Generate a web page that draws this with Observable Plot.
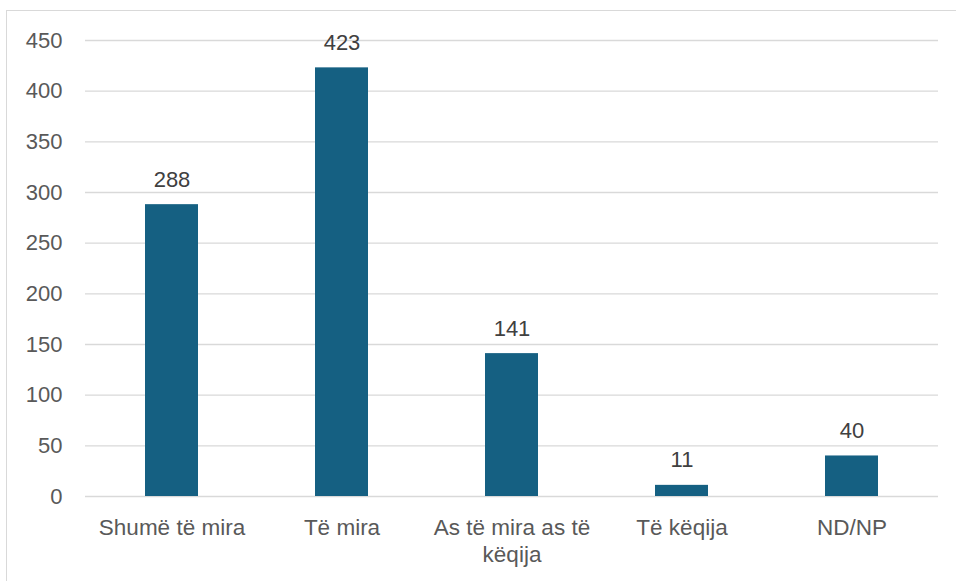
<!DOCTYPE html>
<html>
<head>
<meta charset="utf-8">
<script src="https://cdn.jsdelivr.net/npm/d3@7"></script>
<script src="https://cdn.jsdelivr.net/npm/@observablehq/plot@0.6"></script>
<style>
  html, body { margin: 0; padding: 0; background: #fff; overflow: hidden; }
  #frame { position: absolute; left: 6px; top: 10px; width: 1000px; height: 1000px; border: 1.5px solid #d9d9d9; box-sizing: border-box; }
  #chart { position: absolute; left: 0; top: 0; }
</style>
</head>
<body>
<div id="frame"></div>
<div id="chart"></div>
<script>
const categories = ["Shumë të mira", "Të mira", "As të mira as të këqija", "Të këqija", "ND/NP"];
const values = [288, 423, 141, 11, 40];
const yTicks = [0, 50, 100, 150, 200, 250, 300, 350, 400, 450];
const wrapped = {"As të mira as të këqija": "As të mira as të\nkëqija"};

const data = categories.map((c, i) => ({category: c, value: values[i]}));
const font = "'Liberation Sans', Arial, sans-serif";

const chart = Plot.plot({
  width: 956,
  height: 581,
  marginLeft: 85,
  marginRight: 18,
  marginTop: 40,
  marginBottom: 85,
  style: {fontFamily: font, background: "transparent", overflow: "visible"},
  x: {domain: categories, paddingInner: 0.69, paddingOuter: 0.345, axis: null},
  y: {domain: [0, 450], axis: null},
  marks: [
    Plot.gridY(yTicks, {stroke: "#d9d9d9", strokeOpacity: 1, strokeWidth: 1.4}),
    Plot.barY(data, {x: "category", y: "value", fill: "#156082"}),
    Plot.text(data, {x: "category", y: "value", text: d => String(d.value), lineAnchor: "bottom", dy: -18, fill: "#404040", fontSize: 22}),
    Plot.axisY(yTicks, {tickSize: 0, tickPadding: 23, fontSize: 22, fill: "#595959", label: null}),
    Plot.axisX({tickSize: 0, tickPadding: 19, fontSize: 22.5, fill: "#595959", label: null, lineHeight: 1.2, tickFormat: d => wrapped[d] || d})
  ]
});
document.getElementById("chart").appendChild(chart);
</script>
</body>
</html>
